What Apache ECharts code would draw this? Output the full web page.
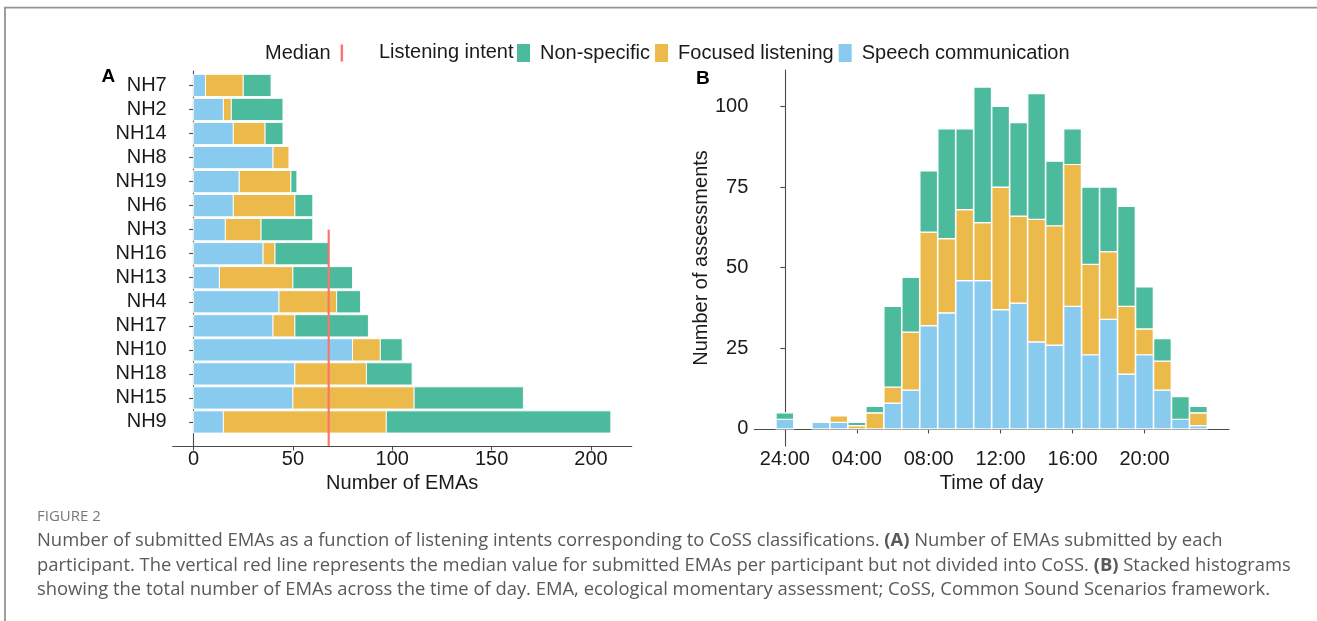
<!DOCTYPE html>
<html>
<head>
<meta charset="utf-8">
<script src="https://cdn.jsdelivr.net/npm/echarts@6/dist/echarts.min.js"></script>
<style>
  html, body { margin: 0; padding: 0; background: #ffffff; }
  #chart { width: 1317px; height: 621px; }
</style>
</head>
<body>
<div id="chart"></div>
<script>
// ---- Panel A: EMAs submitted per participant, split by listening intent ----
const participants = ['NH7', 'NH2', 'NH14', 'NH8', 'NH19', 'NH6', 'NH3', 'NH16',
                      'NH13', 'NH4', 'NH17', 'NH10', 'NH18', 'NH15', 'NH9'];
const speechA   = [6, 15, 20, 40, 23, 20, 16, 35, 13, 43, 40, 80, 51, 50, 15];
const focusedA  = [19, 4, 16, 8, 26, 31, 18, 6, 37, 29, 11, 14, 36, 61, 82];
const nonSpecA  = [14, 26, 9, 0, 3, 9, 26, 27, 30, 12, 37, 11, 23, 55, 113];
const medianEMAs = 68;
const medianTopRow = 'NH3';
const emaTicks = [0, 50, 100, 150, 200];

// ---- Panel B: assessments per hour of the day ----
const hours    = [0, 1, 2, 3, 4, 5, 6, 7, 8, 9, 10, 11, 12, 13, 14, 15, 16, 17, 18, 19, 20, 21, 22, 23];
const speechB  = [3, 0, 2, 2, 0, 0, 8, 12, 32, 36, 46, 46, 37, 39, 27, 26, 38, 23, 34, 17, 23, 12, 3, 1];
const focusedB = [0, 0, 0, 2, 1, 5, 5, 18, 29, 23, 22, 18, 38, 27, 38, 37, 44, 28, 21, 21, 8, 9, 0, 4];
const nonSpecB = [2, 0, 0, 0, 1, 2, 25, 17, 19, 34, 25, 42, 25, 29, 39, 20, 11, 24, 20, 31, 13, 7, 7, 2];
const hourTicks  = [0, 4, 8, 12, 16, 20];
const hourLabels = ['24:00', '04:00', '08:00', '12:00', '16:00', '20:00'];
const countTicks = [0, 25, 50, 75, 100];

const intents = [
  { name: 'Speech communication', color: '#89CAEF', a: speechA,  b: speechB },
  { name: 'Focused listening',    color: '#ECBA4B', a: focusedA, b: focusedB },
  { name: 'Non-specific',         color: '#4CBA9C', a: nonSpecA, b: nonSpecB }
];

const FONT = '"Liberation Sans", Arial, sans-serif';
const INK = '#1a1a1a';
const AXIS = '#4a4a4a';

// participant rows: top row is the highest position on the value axis
const rowPos = participants.map((p, i) => participants.length - i);
const labelForPos = {};
participants.forEach((p, i) => { labelForPos[rowPos[i]] = p; });

// horizontal stacked segments: [start, end, row]
const runningA = participants.map(() => 0);
const seriesA = intents.map(it => ({
  type: 'custom',
  name: it.name,
  xAxisIndex: 0,
  yAxisIndex: 0,
  itemStyle: { color: it.color },
  encode: { x: [0, 1], y: 2 },
  data: it.a.map((v, i) => {
    const start = runningA[i];
    runningA[i] += v;
    return [start, start + v, rowPos[i]];
  }),
  renderItem: function (params, api) {
    const start = api.value(0), end = api.value(1), pos = api.value(2);
    if (!(end > start)) return null;
    const p0 = api.coord([start, pos]);
    const p1 = api.coord([end, pos]);
    const h = api.size([0, 1])[1] * 0.923;
    return {
      type: 'rect',
      shape: { x: p0[0], y: p0[1] - h / 2, width: p1[0] - p0[0], height: h },
      style: { fill: api.visual('color'), stroke: '#ffffff', lineWidth: 0.9 }
    };
  }
}));

// vertical stacked hourly columns: [hour, bottom, top]
const runningB = hours.map(() => 0);
const seriesB = intents.map(it => ({
  type: 'custom',
  name: it.name,
  xAxisIndex: 1,
  yAxisIndex: 1,
  itemStyle: { color: it.color },
  encode: { x: 0, y: [1, 2] },
  data: hours.map((h, i) => {
    const lo = runningB[i];
    runningB[i] += it.b[i];
    return [h, lo, lo + it.b[i]];
  }),
  renderItem: function (params, api) {
    const h = api.value(0), lo = api.value(1), hi = api.value(2);
    if (!(hi > lo)) return null;
    const w = api.size([1, 0])[0] * 0.978;
    const pLo = api.coord([h, lo]);
    const pHi = api.coord([h, hi]);
    return {
      type: 'rect',
      shape: { x: pLo[0] - w / 2, y: pHi[1], width: w, height: pLo[1] - pHi[1] },
      style: { fill: api.visual('color'), stroke: '#ffffff', lineWidth: 1.2 }
    };
  }
}));

const medianSeries = {
  type: 'line',
  name: 'Median',
  xAxisIndex: 0,
  yAxisIndex: 0,
  z: 5,
  symbol: 'none',
  itemStyle: { color: '#F8766D' },
  lineStyle: { color: '#F8766D', width: 2.2 },
  data: [[medianEMAs, 0], [medianEMAs, rowPos[participants.indexOf(medianTopRow)]]]
};

const axisLineStyle = { show: true, lineStyle: { color: AXIS, width: 1.1 } };
const tickStyle = (vals) => ({ show: true, length: 4.5, lineStyle: { color: AXIS, width: 1.1 }, customValues: vals });
const labelBase = { color: INK, fontSize: 20, fontFamily: FONT };

const captionFont = '"Open Sans", "Noto Sans", sans-serif';
const captionLines = [
  'Number of submitted EMAs as a function of listening intents corresponding to CoSS classifications. {b|(A)} Number of EMAs submitted by each',
  'participant. The vertical red line represents the median value for submitted EMAs per participant but not divided into CoSS. {b|(B)} Stacked histograms',
  'showing the total number of EMAs across the time of day. EMA, ecological momentary assessment; CoSS, Common Sound Scenarios framework.'
];
const captionY = [541, 565.5, 589.5];

const chart = echarts.init(document.getElementById('chart'), null, { renderer: 'canvas' });
chart.setOption({
  animation: false,
  backgroundColor: '#ffffff',
  textStyle: { fontFamily: FONT },
  grid: [
    { left: 172.7, top: 71, width: 459, height: 375, containLabel: false },
    { left: 754.3, top: 70, width: 474.7, height: 376, containLabel: false }
  ],
  xAxis: [
    {
      type: 'value', gridIndex: 0, min: -10.5, max: 220.5,
      axisLine: axisLineStyle, axisTick: tickStyle(emaTicks),
      axisLabel: Object.assign({ margin: 3, customValues: emaTicks }, labelBase),
      splitLine: { show: false },
      name: 'Number of EMAs', nameLocation: 'middle', nameGap: 23,
      nameTextStyle: { color: INK, fontSize: 20, fontFamily: FONT, verticalAlign: 'top' }
    },
    {
      type: 'value', gridIndex: 1, min: -1.7, max: 24.7,
      axisLine: axisLineStyle, axisTick: tickStyle(hourTicks),
      axisLabel: Object.assign({ margin: 3, customValues: hourTicks,
        formatter: v => hourLabels[hourTicks.indexOf(v)] }, labelBase),
      splitLine: { show: false },
      name: 'Time of day', nameLocation: 'middle', nameGap: 23,
      nameTextStyle: { color: INK, fontSize: 20, fontFamily: FONT, verticalAlign: 'top' }
    }
  ],
  yAxis: [
    {
      type: 'value', gridIndex: 0, min: 0, max: 15.6,
      axisLine: axisLineStyle, axisTick: tickStyle(rowPos),
      axisLabel: Object.assign({ margin: 6, customValues: rowPos,
        formatter: v => labelForPos[v] || '' }, labelBase),
      splitLine: { show: false }
    },
    {
      type: 'value', gridIndex: 1, min: -5.3, max: 111.3,
      axisLine: axisLineStyle, axisTick: tickStyle(countTicks),
      axisLabel: Object.assign({ margin: 6, customValues: countTicks }, labelBase),
      splitLine: { show: false },
      name: 'Number of assessments', nameLocation: 'middle', nameGap: 37, nameRotate: 90,
      nameTextStyle: { color: INK, fontSize: 20, fontFamily: FONT }
    }
  ],
  legend: [
    {
      data: ['Median'], left: 265, top: 43, padding: 0, align: 'right',
      icon: 'rect', itemWidth: 2.5, itemHeight: 17, selectedMode: false,
      textStyle: { color: INK, fontSize: 20, fontFamily: FONT, padding: [0, 5, 0, 0] }
    },
    {
      data: ['Non-specific', 'Focused listening', 'Speech communication'],
      left: 517, top: 43, padding: 0, itemGap: 5,
      icon: 'rect', itemWidth: 13, itemHeight: 18, selectedMode: false,
      textStyle: { color: INK, fontSize: 20, fontFamily: FONT, padding: [0, 0, 0, 5] }
    }
  ],
  graphic: [
    {
      type: 'polyline', silent: true,
      shape: { points: [[5, 621], [5, 7.7], [1317, 7.7]] },
      style: { stroke: '#949494', lineWidth: 1.8, fill: null }
    },
    { type: 'text', x: 379, y: 52, style: { text: 'Listening intent', font: '20px ' + FONT, fill: INK, verticalAlign: 'middle' } },
    { type: 'text', x: 101.5, y: 77, style: { text: 'A', font: 'bold 19px ' + FONT, fill: '#000', verticalAlign: 'middle' } },
    { type: 'text', x: 696, y: 79, style: { text: 'B', font: 'bold 19px ' + FONT, fill: '#000', verticalAlign: 'middle' } },
    { type: 'text', x: 37, y: 517, style: { text: 'FIGURE 2', font: '15px ' + captionFont, fill: '#777777', verticalAlign: 'middle' } }
  ].concat(captionLines.map((t, i) => ({
    type: 'text', x: 37, y: captionY[i],
    style: {
      text: t, fontSize: 18.4, fontFamily: captionFont, fill: '#595959', verticalAlign: 'middle',
      rich: { b: { fontSize: 18.4, fontFamily: captionFont, fontWeight: 'bold', fill: '#595959' } }
    }
  }))),
  series: seriesA.concat(seriesB, [medianSeries])
});
</script>
</body>
</html>
